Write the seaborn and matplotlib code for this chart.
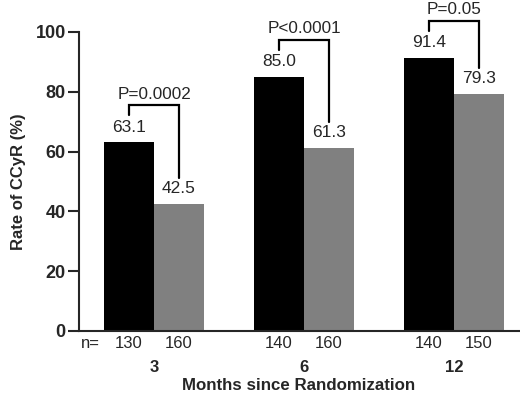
import matplotlib
matplotlib.use("Agg")
import matplotlib.pyplot as plt
import seaborn as sns
import pandas as pd

months = ["3", "6", "12"]
arms = ["Arm A", "Arm B"]
rate_a = [63.1, 85.0, 91.4]
rate_b = [42.5, 61.3, 79.3]
n_a = [130, 140, 140]
n_b = [160, 160, 150]
p_labels = ["P=0.0002", "P<0.0001", "P=0.05"]

df = pd.DataFrame({
    "Months": months * 2,
    "Arm": [arms[0]] * 3 + [arms[1]] * 3,
    "Rate": rate_a + rate_b,
})

sns.set_style("ticks")
plt.rcParams["font.family"] = ["Liberation Sans", "DejaVu Sans"]

fig = plt.figure(figsize=(5.2, 3.94), dpi=100)
ax = fig.add_axes([0.152, 0.160, 0.846, 0.759])

sns.barplot(data=df, x="Months", y="Rate", hue="Arm", order=months,
            hue_order=arms, palette=["#000000", "#808080"], width=0.667,
            gap=0, saturation=1, legend=False, ax=ax, errorbar=None,
            linewidth=0)

ax.set_xlim(-0.5, 2.433)
ax.set_ylim(0, 100)
ax.set_yticks([0, 20, 40, 60, 80, 100])
for lab in ax.get_yticklabels():
    lab.set_fontweight("bold")
ax.tick_params(axis="y", length=8, width=1.5, labelsize=13, pad=1.5)
ax.tick_params(axis="x", length=0, labelsize=12, pad=21)
ax.set_xticks(range(3))
ax.set_xticklabels(months, fontweight="bold")
ax.set_xlabel("Months since Randomization", fontsize=12.2, fontweight="bold", labelpad=2)
ax.set_ylabel("Rate of CCyR (%)", fontsize=12, fontweight="bold", labelpad=7)
sns.despine(ax=ax)
for s in ["left", "bottom"]:
    ax.spines[s].set_linewidth(1.5)

# bar centers from the drawn patches
bars = [p for p in ax.patches if p.get_height() > 0]
bars_a = sorted(bars[:3], key=lambda p: p.get_x())
bars_b = sorted(bars[3:6], key=lambda p: p.get_x())
xa = [p.get_x() + p.get_width() / 2 for p in bars_a]
xb = [p.get_x() + p.get_width() / 2 for p in bars_b]

trans = ax.get_xaxis_transform()
ax.text(-0.427, -0.043, "n=", transform=trans, ha="center", va="center", fontsize=12)
for i in range(3):
    ax.text(xa[i], rate_a[i] + 5, f"{rate_a[i]:.1f}", ha="center", va="center", fontsize=12.5)
    ax.text(xb[i], rate_b[i] + 5, f"{rate_b[i]:.1f}", ha="center", va="center", fontsize=12.5)
    ax.text(xa[i], -0.043, str(n_a[i]), transform=trans, ha="center", va="center", fontsize=12)
    ax.text(xb[i], -0.043, str(n_b[i]), transform=trans, ha="center", va="center", fontsize=12)
    top = max(rate_a[i], rate_b[i]) + 12.3
    ax.plot([xa[i], xa[i], xb[i], xb[i]],
            [rate_a[i] + 9, top, top, rate_b[i] + 8.5],
            color="black", lw=1.6, clip_on=False, solid_joinstyle="miter")
    ax.text((xa[i] + xb[i]) / 2, top + 3.8, p_labels[i], ha="center", va="center",
            fontsize=12.3, clip_on=False)

fig.savefig("out.png", dpi=100)
